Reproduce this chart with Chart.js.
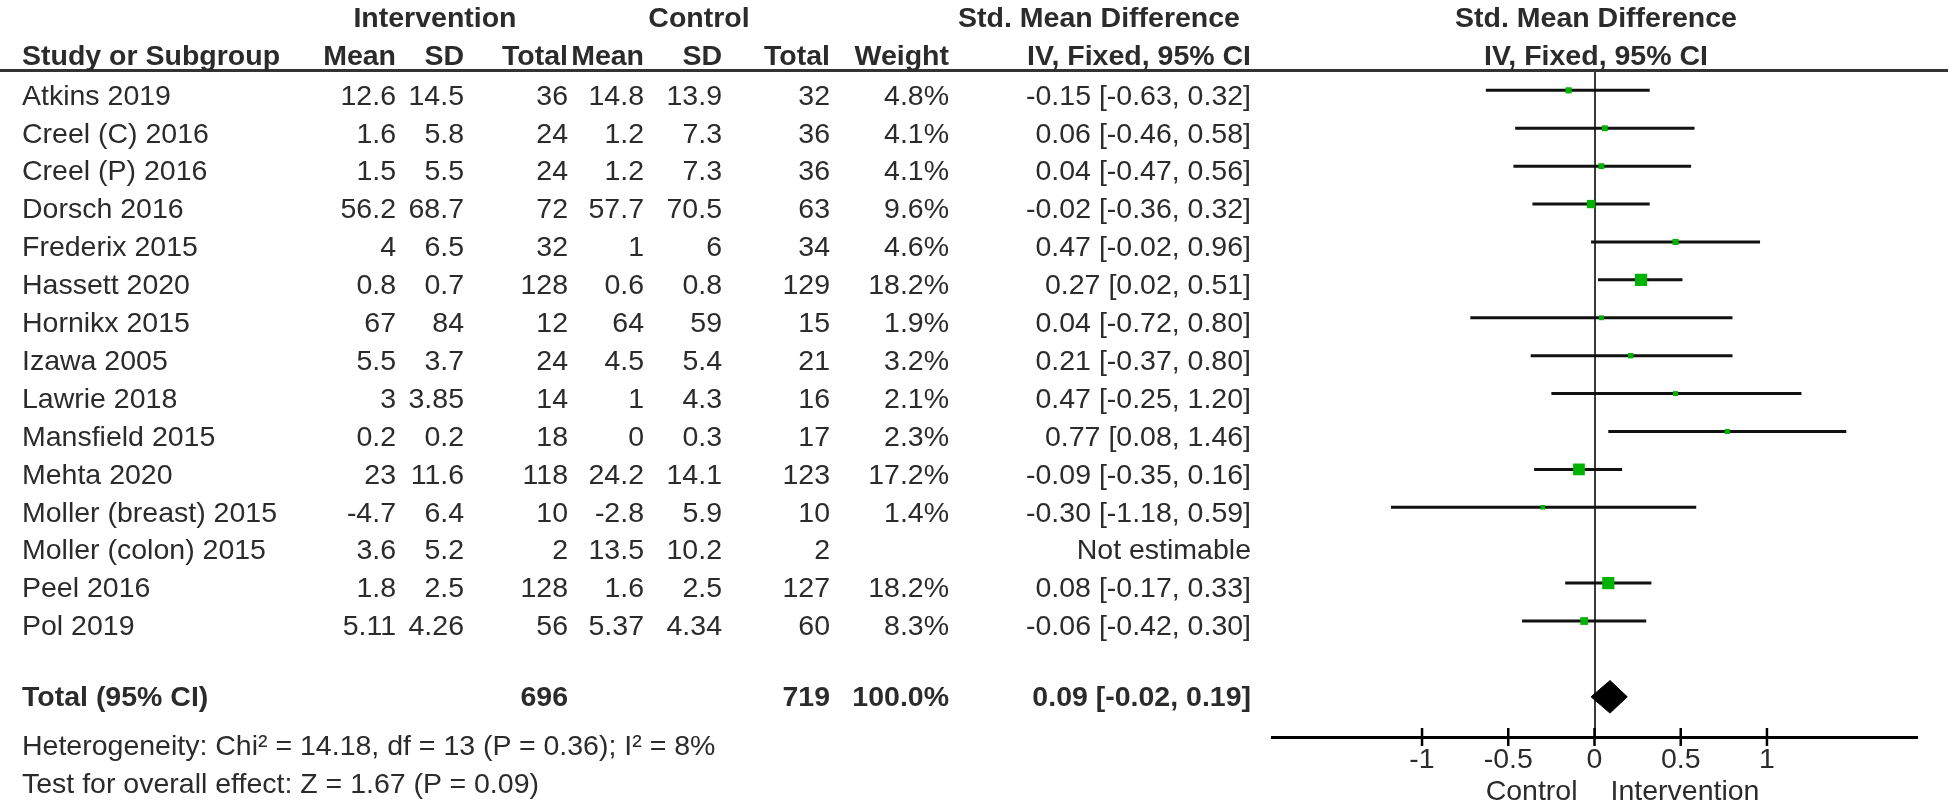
<!DOCTYPE html>
<html>
<head>
<meta charset="utf-8">
<script src="https://cdn.jsdelivr.net/npm/chart.js@4.4.1/dist/chart.umd.min.js"></script>
<style>
  html, body { margin: 0; padding: 0; background: #fff; }
  #page { position: relative; width: 1952px; height: 804px; overflow: hidden;
          font-family: 'Liberation Sans', Arial, sans-serif; font-size: 28.5px; color: #2b2b2b; }
  .c { position: absolute; white-space: nowrap; height: 38px; line-height: 38px; z-index: 2; }
  .b { font-weight: bold; }
  #plot { position: absolute; left: 0; top: 0; z-index: 1; }
</style>
</head>
<body>
<div id="page">
  <canvas id="plot" width="1952" height="804"></canvas>
</div>
<script>
const studies = ['Atkins 2019', 'Creel (C) 2016', 'Creel (P) 2016', 'Dorsch 2016', 'Frederix 2015',
  'Hassett 2020', 'Hornikx 2015', 'Izawa 2005', 'Lawrie 2018', 'Mansfield 2015', 'Mehta 2020',
  'Moller (breast) 2015', 'Moller (colon) 2015', 'Peel 2016', 'Pol 2019'];
const intMean = [12.6, 1.6, 1.5, 56.2, 4, 0.8, 67, 5.5, 3, 0.2, 23, -4.7, 3.6, 1.8, 5.11];
const intSD   = [14.5, 5.8, 5.5, 68.7, 6.5, 0.7, 84, 3.7, 3.85, 0.2, 11.6, 6.4, 5.2, 2.5, 4.26];
const intN    = [36, 24, 24, 72, 32, 128, 12, 24, 14, 18, 118, 10, 2, 128, 56];
const ctlMean = [14.8, 1.2, 1.2, 57.7, 1, 0.6, 64, 4.5, 1, 0, 24.2, -2.8, 13.5, 1.6, 5.37];
const ctlSD   = [13.9, 7.3, 7.3, 70.5, 6, 0.8, 59, 5.4, 4.3, 0.3, 14.1, 5.9, 10.2, 2.5, 4.34];
const ctlN    = [32, 36, 36, 63, 34, 129, 15, 21, 16, 17, 123, 10, 2, 127, 60];
const weight  = [4.8, 4.1, 4.1, 9.6, 4.6, 18.2, 1.9, 3.2, 2.1, 2.3, 17.2, 1.4, null, 18.2, 8.3];
const smd     = [-0.15, 0.06, 0.04, -0.02, 0.47, 0.27, 0.04, 0.21, 0.47, 0.77, -0.09, -0.30, null, 0.08, -0.06];
const ciLow   = [-0.63, -0.46, -0.47, -0.36, -0.02, 0.02, -0.72, -0.37, -0.25, 0.08, -0.35, -1.18, null, -0.17, -0.42];
const ciHigh  = [0.32, 0.58, 0.56, 0.32, 0.96, 0.51, 0.80, 0.80, 1.20, 1.46, 0.16, 0.59, null, 0.33, 0.30];

const totalInt = 696, totalCtl = 719, totalWeight = '100.0%';
const totalSmd = 0.09, totalLow = -0.02, totalHigh = 0.19;
const heterogeneity = 'Heterogeneity: Chi\u00b2 = 14.18, df = 13 (P = 0.36); I\u00b2 = 8%';
const overallTest = 'Test for overall effect: Z = 1.67 (P = 0.09)';
const xTicks = [-1, -0.5, 0, 0.5, 1];

const TOTAL_ROW = 16;
const ROW_H = 37.9, ROW0 = 94.6;
const GREEN = '#00b300';

// ---- table (plain html text) ----
const page = document.getElementById('page');

function cell(text, x, yc, align, bold) {
  const d = document.createElement('div');
  d.className = 'c' + (bold ? ' b' : '');
  d.textContent = text;
  d.style.top = (yc - 19) + 'px';
  if (align === 'right') { d.style.left = (x - 500) + 'px'; d.style.width = '500px'; d.style.textAlign = 'right'; }
  else if (align === 'center') { d.style.left = (x - 300) + 'px'; d.style.width = '600px'; d.style.textAlign = 'center'; }
  else d.style.left = x + 'px';
  page.appendChild(d);
}

const COL = { name: 22, iMean: 396, iSD: 464, iN: 568, cMean: 644, cSD: 722, cN: 830, w: 949, ci: 1251 };
const fmt = v => v.toFixed(2);

cell('Intervention', 435, 17, 'center', true);
cell('Control', 699, 17, 'center', true);
cell('Std. Mean Difference', 1099, 17, 'center', true);
cell('Std. Mean Difference', 1596, 17, 'center', true);
cell('Study or Subgroup', COL.name, 55, 'left', true);
cell('Mean', COL.iMean, 55, 'right', true);
cell('SD', COL.iSD, 55, 'right', true);
cell('Total', COL.iN, 55, 'right', true);
cell('Mean', COL.cMean, 55, 'right', true);
cell('SD', COL.cSD, 55, 'right', true);
cell('Total', COL.cN, 55, 'right', true);
cell('Weight', COL.w, 55, 'right', true);
cell('IV, Fixed, 95% CI', COL.ci, 55, 'right', true);
cell('IV, Fixed, 95% CI', 1596, 55, 'center', true);

studies.forEach((s, i) => {
  const y = ROW0 + ROW_H * i;
  cell(s, COL.name, y, 'left');
  cell(String(intMean[i]), COL.iMean, y, 'right');
  cell(String(intSD[i]), COL.iSD, y, 'right');
  cell(String(intN[i]), COL.iN, y, 'right');
  cell(String(ctlMean[i]), COL.cMean, y, 'right');
  cell(String(ctlSD[i]), COL.cSD, y, 'right');
  cell(String(ctlN[i]), COL.cN, y, 'right');
  if (weight[i] !== null) cell(weight[i].toFixed(1) + '%', COL.w, y, 'right');
  cell(smd[i] === null ? 'Not estimable'
    : `${fmt(smd[i])} [${fmt(ciLow[i])}, ${fmt(ciHigh[i])}]`, COL.ci, y, 'right');
});

const yTot = 696;
cell('Total (95% CI)', COL.name, yTot, 'left', true);
cell(String(totalInt), COL.iN, yTot, 'right', true);
cell(String(totalCtl), COL.cN, yTot, 'right', true);
cell(totalWeight, COL.w, yTot, 'right', true);
cell(`${fmt(totalSmd)} [${fmt(totalLow)}, ${fmt(totalHigh)}]`, COL.ci, yTot, 'right', true);
cell(heterogeneity, COL.name, 745, 'left');
cell(overallTest, COL.name, 783, 'left');

// ---- forest plot ----
const ciSets = studies.map((s, i) => smd[i] === null ? null : {
  type: 'line',
  data: [{ x: ciLow[i], y: i }, { x: ciHigh[i], y: i }],
  borderColor: '#111', borderWidth: 3, pointRadius: 0, fill: false,
}).filter(Boolean);

const squareIdx = studies.map((s, i) => i).filter(i => smd[i] !== null);

const DIAMOND_H = 0.43;
const diamond = {
  type: 'line',
  data: [
    { x: totalLow, y: TOTAL_ROW }, { x: totalSmd, y: TOTAL_ROW - DIAMOND_H },
    { x: totalHigh, y: TOTAL_ROW }, { x: totalSmd, y: TOTAL_ROW + DIAMOND_H },
    { x: totalLow, y: TOTAL_ROW },
  ],
  borderColor: '#000', backgroundColor: '#000', borderWidth: 1, pointRadius: 0,
  tension: 0, fill: 'shape',
};

const FONT = { family: "'Liberation Sans', Arial, sans-serif", size: 28.5 };

// header rule across the whole table, tick marks crossing the axis, side labels
const axisExtras = {
  id: 'axisExtras',
  beforeDraw(chart) {
    const { ctx, width } = chart;
    ctx.save();
    ctx.fillStyle = '#333';
    ctx.fillRect(0, 69, width - 4, 3);
    ctx.restore();
  },
  afterDraw(chart) {
    const { ctx, scales: { x }, chartArea } = chart;
    const yb = chartArea.bottom;
    ctx.save();
    ctx.strokeStyle = '#000';
    ctx.lineWidth = 2.5;
    xTicks.forEach(v => {
      const px = x.getPixelForValue(v);
      ctx.beginPath();
      ctx.moveTo(px, yb - 9);
      ctx.lineTo(px, yb + 9);
      ctx.stroke();
    });
    const zx = x.getPixelForValue(0);
    ctx.fillStyle = '#2b2b2b';
    ctx.font = `${FONT.size}px ${FONT.family}`;
    ctx.textBaseline = 'middle';
    ctx.textAlign = 'right';
    ctx.fillText('Control', zx - 17, 792);
    ctx.textAlign = 'left';
    ctx.fillText('Intervention', zx + 16, 792);
    ctx.restore();
  }
};

new Chart(document.getElementById('plot'), {
  type: 'scatter',
  data: {
    datasets: [
      {
        type: 'scatter',
        data: squareIdx.map(i => ({ x: smd[i], y: i })),
        pointStyle: 'rect',
        pointRadius: squareIdx.map(i => (4 + 0.45 * weight[i]) / Math.SQRT2),
        backgroundColor: GREEN, borderWidth: 0,
      },
      diamond,
      ...ciSets,
    ],
  },
  options: {
    responsive: false,
    animation: false,
    devicePixelRatio: 1,
    layout: { padding: { left: 1272, right: 35, top: 71, bottom: 0 } },
    plugins: { legend: { display: false }, tooltip: { enabled: false } },
    scales: {
      x: {
        type: 'linear', min: -1.87, max: 1.87,
        afterBuildTicks: s => { s.ticks = xTicks.map(v => ({ value: v })); },
        afterFit: s => { s.height = 67; },
        ticks: { font: FONT, color: '#2b2b2b', padding: 6, callback: v => String(v) },
        grid: {
          drawTicks: false, lineWidth: 2,
          color: c => (c.tick && c.tick.value === 0) ? '#3a3a3a' : 'rgba(0,0,0,0)',
        },
        border: { display: true, color: '#000', width: 3 },
      },
      y: { type: 'linear', display: false, reverse: true, min: -0.51, max: 17.06 },
    },
  },
  plugins: [axisExtras],
});
</script>
</body>
</html>
